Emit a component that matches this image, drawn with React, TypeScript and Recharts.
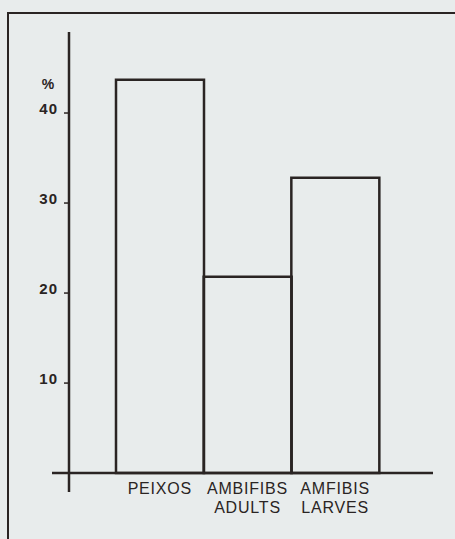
import { Bar, BarChart, ReferenceLine, XAxis, YAxis } from "recharts";

const categories = ["PEIXOS|", "AMBIFIBS|ADULTS", "AMFIBIS|LARVES"];
const percents = [43.7, 21.8, 32.8];
const yTicks = [10, 20, 30, 40];

const data = categories.map((c, i) => ({ name: c, value: percents[i] }));

const INK = "#2a2423";
const PAPER = "#e8ecec";
const FONT = "'Liberation Sans', Arial, Helvetica, sans-serif";

function CategoryTick(props: any) {
  const { x, y, payload } = props;
  const [l1, l2] = String(payload.value).split("|");
  return (
    <text
      x={x}
      y={y}
      textAnchor="middle"
      fill={INK}
      fontFamily={FONT}
      fontSize={16}
      letterSpacing={0.8}
    >
      <tspan x={x} dy={2}>
        {l1}
      </tspan>
      {l2 ? (
        <tspan x={x} dy={19}>
          {l2}
        </tspan>
      ) : null}
    </text>
  );
}

function PercentTick(props: any) {
  const { x, y, payload } = props;
  return (
    <text
      x={x}
      y={y + 1}
      textAnchor="end"
      fill={INK}
      fontFamily={FONT}
      fontSize={15}
      fontWeight="bold"
      letterSpacing={1}
    >
      {payload.value}
    </text>
  );
}

export default function App() {
  return (
    <div
      style={{
        position: "fixed",
        left: 0,
        top: 0,
        width: 455,
        height: 539,
        overflow: "hidden",
        background: PAPER,
      }}
    >
      {/* page frame */}
      <div
        style={{
          position: "absolute",
          left: 7,
          top: 12,
          width: 470,
          height: 560,
          borderTop: `2.5px solid ${INK}`,
          borderLeft: `2.5px solid ${INK}`,
        }}
      />
      <BarChart
        width={455}
        height={539}
        data={data}
        margin={{ top: 32, right: 22, left: 8, bottom: 17 }}
        barCategoryGap={0}
        style={{ position: "absolute", left: 0, top: 0 }}
      >
        <XAxis
          dataKey="name"
          height={30}
          axisLine={false}
          tickLine={false}
          tickSize={0}
          tickMargin={0}
          interval={0}
          padding={{ left: 47, right: 54 }}
          tick={<CategoryTick />}
        />
        <YAxis
          width={61}
          domain={[-2.1, 49]}
          ticks={yTicks}
          axisLine={{ stroke: INK, strokeWidth: 2.5 }}
          tickLine={{ stroke: INK, strokeWidth: 1.5 }}
          tickSize={5}
          tickMargin={6}
          tick={<PercentTick />}
          label={{
            content: (p: any) => (
              <text
                x={p.viewBox.x + p.viewBox.width - 21}
                y={p.viewBox.y + 57}
                textAnchor="middle"
                fill={INK}
                fontFamily={FONT}
                fontSize={14}
                fontWeight="bold"
              >
                %
              </text>
            ),
          }}
        />
        <Bar
          dataKey="value"
          fill="transparent"
          stroke={INK}
          strokeWidth={2.5}
          isAnimationActive={false}
        />
        <ReferenceLine
          y={0}
          stroke={INK}
          strokeWidth={2.5}
          shape={(p: any) => (
            <line
              x1={p.x1 - 17}
              y1={p.y1}
              x2={p.x2}
              y2={p.y2}
              stroke={INK}
              strokeWidth={2.5}
            />
          )}
        />
      </BarChart>
    </div>
  );
}
